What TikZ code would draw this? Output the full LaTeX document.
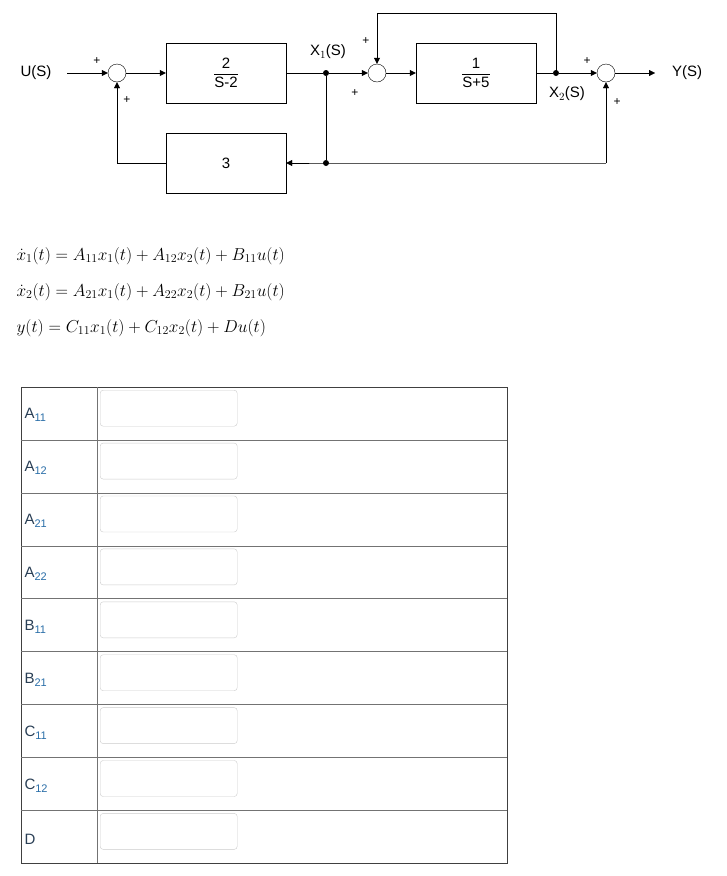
\documentclass[tikz,border=0pt]{standalone}
\usepackage{fontspec}
\setmainfont{Liberation Sans}
\usepackage{amsmath}
\usetikzlibrary{arrows.meta}
\definecolor{lab}{HTML}{2A3F55}
\definecolor{sub}{HTML}{2A6EA8}
\definecolor{boxg}{HTML}{CCCCCC}
\newcommand{\sbx}[1]{\textcolor{sub}{\fontsize{11}{12}\selectfont\raisebox{-3pt}{#1}}}
\begin{document}
\begin{tikzpicture}[x=1pt,y=-1pt,
  blk/.style={draw,minimum width=120pt,minimum height=60pt,inner sep=0pt,font=\fontsize{15}{17}\selectfont},
  sumc/.style={draw,circle,minimum size=18pt,inner sep=0pt},
  dotn/.style={circle,fill,inner sep=0pt,minimum size=6pt},
  sig/.style={-{Triangle[length=6pt,width=6pt]}},
  lbl/.style={font=\fontsize{15}{17}\selectfont},
  pl/.style={font=\fontsize{12}{13}\selectfont},
  eq/.style={anchor=west,font=\fontsize{17.5}{20}\selectfont},
  inbox/.style={draw=boxg,rounded corners=3pt,minimum width=137pt,minimum height=36pt,inner sep=0pt,anchor=north west},
  tl/.style={anchor=west,text=lab,font=\fontsize{15}{17}\selectfont}]
\useasboundingbox (0,0) rectangle (727,876);
\fill[white] (0,0) rectangle (727,876);
% block diagram
\node[lbl] (u) at (36,73) {U(S)};
\coordinate (us) at (67,73);
\node[sumc] (s1) at (117,73) {};
\node[blk] (b1) at (226,73) {$\dfrac{\text{2}}{\text{S-2}}$};
\node[dotn] (d1) at (326,73) {};
\node[sumc] (s2) at (377,73) {};
\node[blk] (b2) at (476,73) {$\dfrac{\text{1}}{\text{S+5}}$};
\node[dotn] (d2) at (556,73) {};
\node[sumc] (s3) at (606,73) {};
\coordinate (ye) at (655,73);
\node[lbl] (y) at (687,73) {Y(S)};
\node[blk] (b3) at (226,163) {3};
\node[dotn] (d3) at (326,163) {};
\coordinate (c3) at (606,163);
\coordinate (tl) at (377,13);
\coordinate (tr) at (556,13);
\coordinate (bl) at (117,163);
\draw[sig] (us) -- (s1);
\draw[sig] (s1) -- (b1);
\draw (b1) -- (d1);
\draw[sig] (d1) -- (s2);
\draw[sig] (s2) -- (b2);
\draw (b2) -- (d2);
\draw[sig] (d2) -- (s3);
\draw[sig] (s3) -- (ye);
\draw[sig] (d2.center) -- (tr) -- (tl) -- (s2);
\draw (d1) -- (d3);
\draw[sig] (c3) -- (d3.center) -- (b3);
\draw[sig] (c3) -- (s3);
\draw[sig] (b3) -- (bl) -- (s1);
\node[pl] (p1) at (97,61) {+};
\node[pl] (p2) at (127,100) {+};
\node[lbl] (x1) at (328,52) {X$_1$(S)};
\node[pl] (p3) at (366,41) {+};
\node[pl] (p4) at (355,93) {+};
\node[pl] (p5) at (587,61) {+};
\node[pl] (p6) at (617,102) {+};
\node[lbl] (x2) at (567,94) {X$_2$(S)};
% equations
\node[eq] (e1) at (13,256) {$\dot{x}_1(t)=A_{11}x_1(t)+A_{12}x_2(t)+B_{11}u(t)$};
\node[eq] (e2) at (13,292) {$\dot{x}_2(t)=A_{21}x_1(t)+A_{22}x_2(t)+B_{21}u(t)$};
\node[eq] (e3) at (13,328) {$y(t)=C_{11}x_1(t)+C_{12}x_2(t)+Du(t)$};
% table
\draw[black!75] (21,387) rectangle (507,863);
\draw[black!55] (97,387) -- (97,863);
\foreach \i in {1,...,8} \draw[black!55] (21,387+\i*52.9) -- (507,387+\i*52.9);
\foreach \i in {0,...,8} {
  \pgfmathsetmacro{\yt}{387+\i*52.9}
  \node[inbox] (in\i) at (100,\yt+3) {};
}
\node[tl] (l0) at (21,415) {A\sbx{11}};
\node[tl] (l1) at (21,468) {A\sbx{12}};
\node[tl] (l2) at (21,521) {A\sbx{21}};
\node[tl] (l3) at (21,574) {A\sbx{22}};
\node[tl] (l4) at (21,627) {B\sbx{11}};
\node[tl] (l5) at (21,680) {B\sbx{21}};
\node[tl] (l6) at (21,733) {C\sbx{11}};
\node[tl] (l7) at (21,786) {C\sbx{12}};
\node[tl] (l8) at (21,839) {D};
\end{tikzpicture}
\end{document}
